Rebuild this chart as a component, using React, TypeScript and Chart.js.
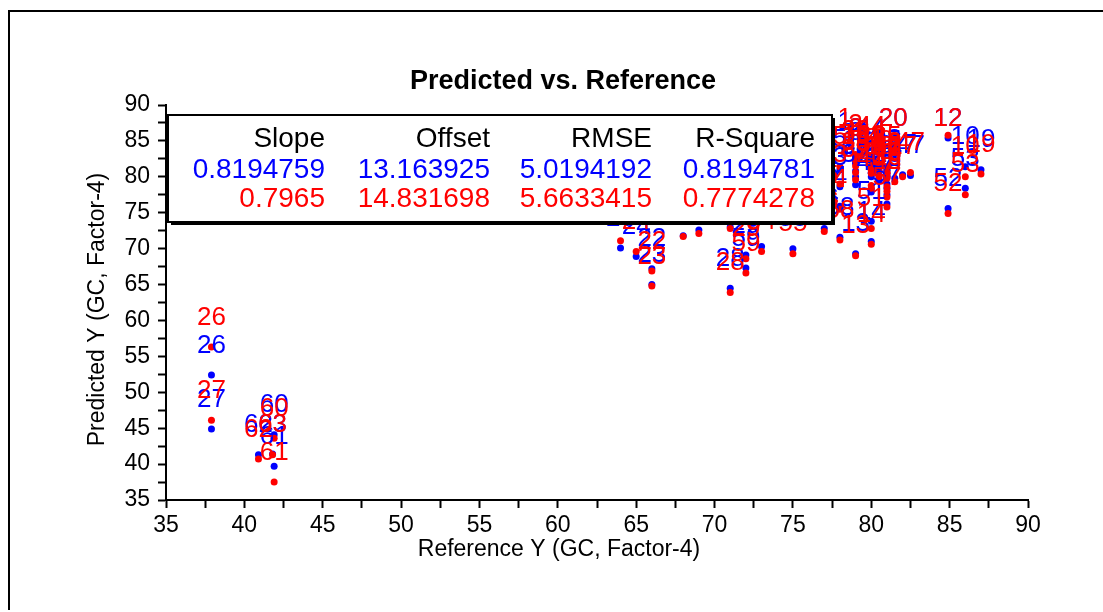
import React, { useEffect, useRef } from "react";
import { Chart, registerables } from "chart.js";

Chart.register(...registerables);

// ---------- data ----------
const sampleIds = [
  1, 2, 3, 4, 5, 6, 7, 8, 9, 10, 11, 12, 13, 14, 15, 16, 17, 18, 19, 20,
  21, 22, 23, 24, 25, 26, 27, 28, 29, 30, 31, 32, 33, 34, 35, 36, 37, 38, 39, 40,
  41, 42, 43, 44, 45, 46, 47, 48, 49, 50, 51, 52, 53, 54, 55, 56, 57, 58, 59, 60,
  61, 62, 63,
];
const referenceX = [
  78.3, 79.0, 78.0, 78.0, 78.0, 81.5, 81.0, 79.0, 80.0, 86.0, 80.0, 84.9, 79.0, 80.0, 79.0, 81.0, 82.0, 80.5, 87.0, 81.4,
  68.0, 66.0, 66.0, 65.0, 64.0, 37.9, 37.9, 71.0, 72.0, 69.0, 71.0, 80.0, 79.0, 80.0, 81.0, 81.0, 81.0, 79.0, 79.0, 80.0,
  80.0, 81.0, 81.0, 80.0, 77.0, 76.0, 82.5, 75.0, 80.5, 81.0, 80.0, 84.9, 86.0, 73.0, 75.0, 77.0, 81.0, 78.0, 72.0, 41.9,
  41.9, 40.9, 41.8,
];
const predictedBlue = [
  83.4, 82.6, 78.6, 75.9, 81.0, 79.8, 77.5, 82.0, 80.6, 81.4, 80.5, 85.4, 69.3, 71.0, 80.8, 80.0, 80.3, 79.5, 81.0, 84.0,
  71.8, 67.2, 65.0, 68.9, 70.1, 52.4, 44.9, 64.5, 69.1, 72.6, 73.0, 81.0, 81.9, 80.0, 80.9, 79.0, 80.5, 80.0, 78.9, 77.9,
  78.3, 81.0, 78.4, 82.4, 76.5, 75.0, 80.2, 74.4, 80.2, 80.2, 73.8, 75.6, 78.4, 70.3, 70.0, 72.8, 76.2, 71.6, 67.3, 44.1,
  39.7, 41.3, 41.4,
];
const predictedRed = [
  83.9, 83.1, 79.0, 75.5, 81.4, 79.3, 77.2, 82.6, 81.2, 80.0, 81.0, 85.8, 69.0, 70.6, 81.5, 80.5, 80.0, 80.0, 80.4, 84.4,
  71.7, 66.9, 64.8, 69.6, 71.1, 56.3, 46.1, 63.9, 68.6, 72.1, 72.8, 81.6, 82.3, 80.5, 81.4, 78.6, 80.0, 80.6, 79.6, 78.4,
  78.8, 80.6, 78.0, 82.9, 76.0, 74.6, 80.6, 74.0, 80.9, 79.8, 72.8, 74.9, 77.5, 69.6, 69.3, 72.4, 75.8, 71.2, 66.6, 43.6,
  37.5, 40.7, 41.3,
];

const statHeaders = ["Slope", "Offset", "RMSE", "R-Square"];
const blueStats = ["0.8194759", "13.163925", "5.0194192", "0.8194781"];
const redStats = ["0.7965", "14.831698", "5.6633415", "0.7774278"];

const chartTitle = "Predicted vs. Reference";
const xAxisTitle = "Reference Y (GC, Factor-4)";
const yAxisTitle = "Predicted Y (GC, Factor-4)";

const axisMin = 35;
const axisMax = 90;
const minorStep = 2.5;
const majorStep = 5;

// ---------- styling ----------
const FONT = "'Liberation Sans', Arial, sans-serif";
const BLUE = "#0000ff";
const RED = "#ff0000";

const overlayPlugin = {
  id: "overlay",
  afterDatasetsDraw(chart: any) {
    const ctx = chart.ctx;
    const xs = chart.scales.x;
    const ys = chart.scales.y;
    const area = chart.chartArea;
    ctx.save();
    ctx.beginPath();
    ctx.rect(area.left, area.top, area.right - area.left, area.bottom - area.top);
    ctx.clip();
    ctx.font = `26px ${FONT}`;
    ctx.textAlign = "center";
    ctx.textBaseline = "middle";
    const drawLabels = (vals: number[], color: string) => {
      ctx.fillStyle = color;
      sampleIds.forEach((id, i) => {
        const px = xs.getPixelForValue(referenceX[i]);
        const py = ys.getPixelForValue(vals[i]);
        const ly = Math.max(py - 29.5, area.top + 13.5);
        ctx.fillText(String(id), px, ly);
      });
    };
    drawLabels(predictedBlue, BLUE);
    drawLabels(predictedRed, RED);
    ctx.restore();
  },
  afterDraw(chart: any) {
    const ctx = chart.ctx;
    const area = chart.chartArea;
    ctx.save();

    // statistics box
    const bl = area.left + 2;
    const bt = area.top + 10;
    const bw = 664;
    const bh = 107;
    ctx.fillStyle = "#000";
    ctx.fillRect(bl + 3, bt + 3, bw, bh);
    ctx.fillStyle = "#fff";
    ctx.fillRect(bl, bt, bw, bh);
    ctx.lineWidth = 2;
    ctx.strokeStyle = "#000";
    ctx.strokeRect(bl, bt, bw, bh);

    const colRight = [157, 322, 484, 647];
    const rowMid = [24, 55.5, 84.5];
    ctx.font = `28px ${FONT}`;
    ctx.textAlign = "right";
    ctx.textBaseline = "middle";
    const rows: [string[], string][] = [
      [statHeaders, "#000"],
      [blueStats, BLUE],
      [redStats, RED],
    ];
    rows.forEach(([texts, color], r) => {
      ctx.fillStyle = color;
      texts.forEach((t, c) => ctx.fillText(t, bl + colRight[c], bt + rowMid[r]));
    });

    // titles
    ctx.fillStyle = "#000";
    ctx.textAlign = "center";
    ctx.textBaseline = "middle";
    ctx.font = `bold 27px ${FONT}`;
    ctx.fillText(chartTitle, chart.width / 2 + 2, area.top - 23);

    ctx.font = `23px ${FONT}`;
    ctx.fillText(xAxisTitle, chart.width / 2 - 2, area.bottom + 50);

    ctx.translate(88, (area.top + area.bottom) / 2 + 7);
    ctx.rotate(-Math.PI / 2);
    ctx.fillText(yAxisTitle, 0, 0);
    ctx.restore();
  },
};

function axisOptions(size: "x" | "y") {
  return {
    type: "linear" as const,
    min: axisMin,
    max: axisMax,
    position: size === "x" ? "bottom" : "left",
    ticks: {
      stepSize: minorStep,
      autoSkip: false,
      maxRotation: 0,
      minRotation: 0,
      padding: size === "x" ? 4 : 8,
      color: "#000",
      font: { size: 23, family: FONT },
      callback: (v: any) => (Math.abs(v % majorStep) < 1e-9 ? String(v) : ""),
    },
    grid: {
      display: true,
      drawOnChartArea: false,
      drawTicks: true,
      tickLength: 8,
      tickColor: "#000",
      tickWidth: 2,
    },
    border: { display: true, color: "#000", width: 2 },
    title: { display: false },
    afterFit: (scale: any) => {
      if (size === "x") scale.height = 40;
      else scale.width = 156;
    },
  };
}

export default function App() {
  const canvasRef = useRef<HTMLCanvasElement | null>(null);

  useEffect(() => {
    if (!canvasRef.current) return;
    const chart = new Chart(canvasRef.current, {
      type: "scatter",
      data: {
        datasets: [
          {
            label: "Validation",
            data: referenceX.map((x, i) => ({ x, y: predictedRed[i] })),
            backgroundColor: RED,
            borderWidth: 0,
            pointRadius: 3.5,
            order: 0,
          },
          {
            label: "Calibration",
            data: referenceX.map((x, i) => ({ x, y: predictedBlue[i] })),
            backgroundColor: BLUE,
            borderWidth: 0,
            pointRadius: 3.5,
            order: 1,
          },
        ],
      },
      options: {
        responsive: false,
        maintainAspectRatio: false,
        animation: false,
        devicePixelRatio: 1,
        layout: { padding: { top: 93, right: 84, bottom: 70, left: 0 } },
        plugins: {
          legend: { display: false },
          tooltip: { enabled: false },
          title: { display: false },
        },
        scales: {
          x: axisOptions("x") as any,
          y: axisOptions("y") as any,
        },
      },
      plugins: [overlayPlugin],
    });
    return () => chart.destroy();
  }, []);

  return (
    <div
      style={{
        position: "fixed",
        left: 8,
        top: 10,
        width: 1102,
        height: 598,
        borderTop: "2px solid #000",
        borderLeft: "2px solid #000",
        background: "#fff",
      }}
    >
      <canvas ref={canvasRef} width={1102} height={598} style={{ display: "block", width: 1102, height: 598 }} />
    </div>
  );
}
